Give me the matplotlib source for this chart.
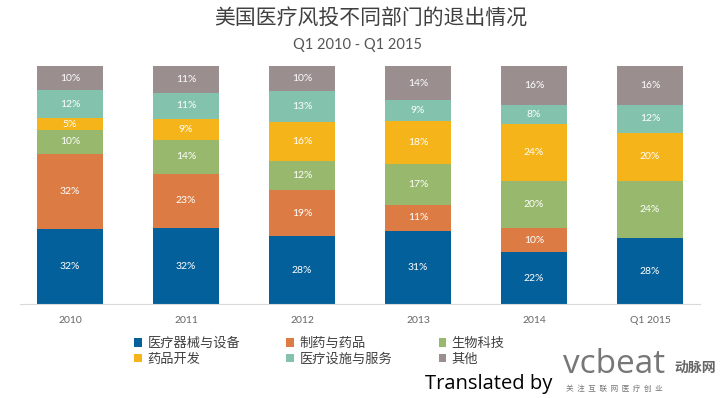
import numpy as np
import matplotlib.pyplot as plt

plt.rcParams['font.family'] = ['Noto Sans CJK SC', 'DejaVu Sans']

# data
periods = ['2010', '2011', '2012', '2013', '2014', 'Q1 2015']
sectors = ['医疗器械与设备', '制药与药品', '生物科技', '药品开发', '医疗设施与服务', '其他']
devices = [32, 32, 28, 31, 22, 28]
pharma = [32, 23, 19, 11, 10, 0]
biotech = [10, 14, 12, 17, 20, 24]
drug_dev = [5, 9, 16, 18, 24, 20]
facilities = [12, 11, 13, 9, 8, 12]
other = [10, 11, 10, 14, 16, 16]

colors = ['#03609a', '#dc7c44', '#97b86d', '#f5b41a', '#83c3ad', '#9a8e8e']

series = np.array([devices, pharma, biotech, drug_dev, facilities, other], dtype=float)
totals = series.sum(axis=0)
shares = series / totals * 100

fig = plt.figure(figsize=(7.2, 3.98), dpi=100)
ax = fig.add_axes([0.028, 0.235, 0.944, 0.598])

x = np.arange(len(periods))
bottom = np.zeros(len(periods))
for i, name in enumerate(sectors):
    ax.bar(x, shares[i], 0.565, bottom=bottom, color=colors[i], label=name)
    for j in range(len(periods)):
        if series[i, j] > 0:
            ax.text(x[j], bottom[j] + shares[i, j] / 2, f'{int(series[i, j])}%',
                    ha='center', va='center', color='white', fontsize=7.5,
                    family=['Lato', 'DejaVu Sans'])
    bottom += shares[i]

for s in ['top', 'right', 'left']:
    ax.spines[s].set_visible(False)
ax.spines['bottom'].set_color('#d9d9d9')

ax.set_xlim(-0.43, len(periods) - 0.57)
ax.set_ylim(0, 100)
ax.set_yticks([])
ax.set_xticks(x)
ax.set_xticklabels(periods, fontsize=7.5, color='#666666', family=['Lato', 'DejaVu Sans'])
ax.tick_params(axis='x', length=0, pad=8)

# title
fig.text(0.515, 0.955, '美国医疗风投不同部门的退出情况', ha='center', va='center',
         fontsize=15, color='#404040')
fig.text(0.497, 0.888, 'Q1 2010 - Q1 2015', ha='center', va='center',
         fontsize=10.5, color='#555555', family=['Lato', 'DejaVu Sans'])

# legend: fills column-wise, so order entries to get rows like the original
handles, labels = ax.get_legend_handles_labels()
order = [0, 3, 1, 4, 2, 5]
fig.legend([handles[k] for k in order], [labels[k] for k in order],
           loc='upper left', bbox_to_anchor=(0.17, 0.183), ncol=3,
           frameon=False, fontsize=9.5, handlelength=0.6, handleheight=0.6,
           columnspacing=3.5, handletextpad=0.4, labelspacing=0.2,
           labelcolor='#404040')

# footer
fig.text(0.59, 0.035, 'Translated by', ha='left', va='center', fontsize=14.5,
         color='black', family=['Open Sans', 'DejaVu Sans'])
fig.text(0.782, 0.085, 'vcbeat', ha='left', va='center', fontsize=24,
         color='#777777', family=['Open Sans', 'DejaVu Sans'])
fig.text(0.937, 0.075, '动脉网', ha='left', va='center', fontsize=10,
         color='#666666', fontweight='bold')
fig.text(0.786, 0.022, '关  注  互  联  网  医  疗  创  业', ha='left', va='center',
         fontsize=5.5, color='#777777')

fig.savefig('out.png', dpi=100)
